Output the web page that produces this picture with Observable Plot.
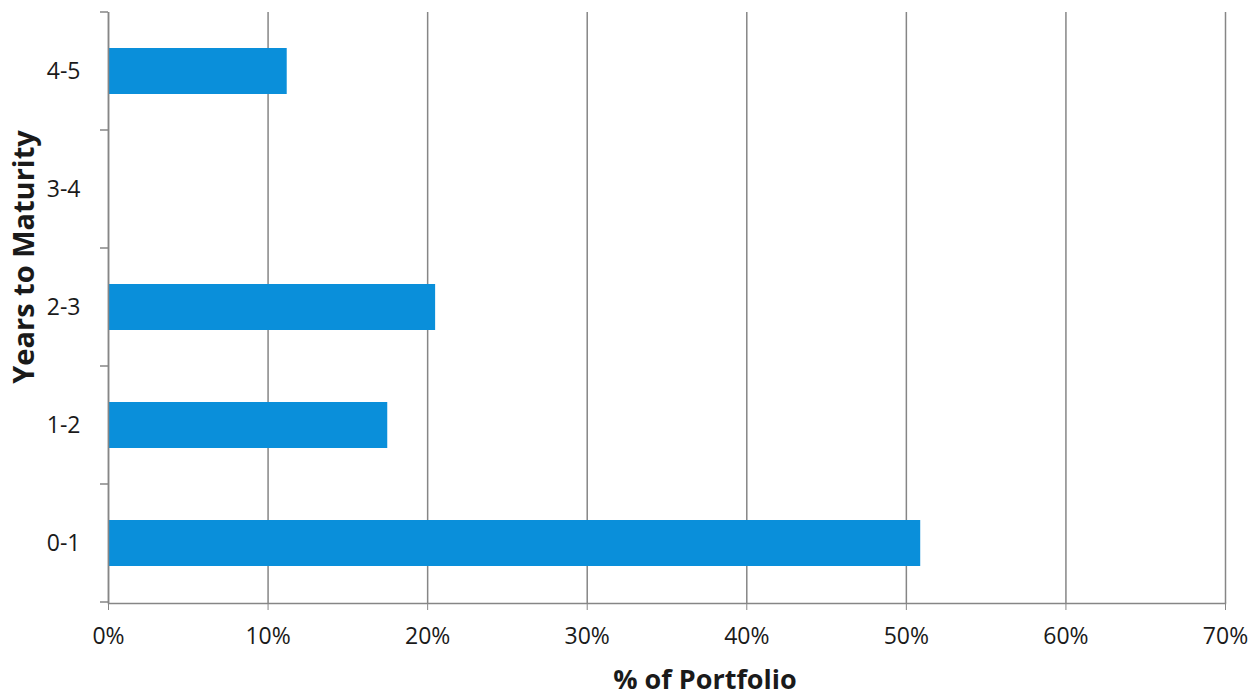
<!DOCTYPE html>
<html>
<head>
<meta charset="utf-8">
<script src="https://cdn.jsdelivr.net/npm/d3@7"></script>
<script src="https://cdn.jsdelivr.net/npm/@observablehq/plot@0.6"></script>
<style>
  html, body { margin: 0; padding: 0; background: #fff; }
  #chart svg { display: block; }
</style>
</head>
<body>
<div id="chart"></div>
<script>
const categories = ["0-1", "1-2", "2-3", "3-4", "4-5"];
const values = [0.509, 0.175, 0.205, 0, 0.112];
const xTicks = [0, 0.1, 0.2, 0.3, 0.4, 0.5, 0.6, 0.7];
const xTitle = "% of Portfolio";
const yTitle = "Years to Maturity";

const data = categories.map((c, i) => ({cat: c, value: values[i]}));
const yDomain = categories.slice().reverse();

// Tick marks at band boundaries on the left axis
const boundaryTicks = (index, scales, vals, dims) => {
  const g = d3.create("svg:g");
  const y = scales.y;
  const step = y.step();
  const x0 = scales.x(0);
  const bounds = yDomain.map(c => y(c) + y.bandwidth() / 2 - step / 2);
  bounds.push(y(yDomain[yDomain.length - 1]) + y.bandwidth() / 2 + step / 2);
  for (const b of bounds) {
    g.append("line").attr("x1", x0 - 8).attr("x2", x0).attr("y1", b).attr("y2", b)
      .attr("stroke", "#868686").attr("stroke-width", 1.5);
  }
  return g.node();
};

const chart = Plot.plot({
  width: 1260,
  height: 700,
  marginLeft: 108,
  marginRight: 35,
  marginTop: 12,
  marginBottom: 97,
  style: {fontFamily: "'Open Sans', sans-serif", fontSize: "23px", color: "#1a1a1a", background: "#fff"},
  x: {domain: [0, 0.7]},
  y: {domain: yDomain, paddingInner: 0.61, paddingOuter: 0.305, align: 0.5},
  marks: [
    Plot.gridX(xTicks, {stroke: "#868686", strokeOpacity: 1, strokeWidth: 1.5}),
    Plot.barX(data, {x: "value", y: "cat", fill: "#0a8fda"}),
    Plot.ruleX([0], {stroke: "#868686", strokeWidth: 1.5}),
    Plot.frame({anchor: "bottom", stroke: "#868686", strokeWidth: 1.5}),
    boundaryTicks,
    Plot.axisX({ticks: xTicks, tickFormat: d3.format(".0%"), tickSize: 7, tickPadding: 17, stroke: "#868686",
      label: null, fontSize: 23}),
    Plot.axisY({tickSize: 0, tickPadding: 28, label: null, fontSize: 23}),
    Plot.text([xTitle], {frameAnchor: "bottom", dy: 85, dx: 38, fontWeight: "bold", fontSize: 27}),
    Plot.text([yTitle], {frameAnchor: "left", textAnchor: "middle", lineAnchor: "middle", dx: -84, dy: -51, rotate: -90, fontWeight: "bold", fontSize: 29})
  ]
});
document.getElementById("chart").appendChild(chart);
</script>
</body>
</html>
